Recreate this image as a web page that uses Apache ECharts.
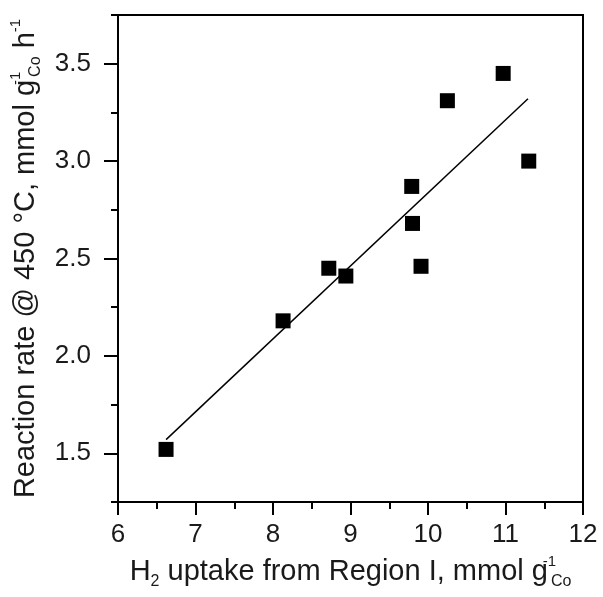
<!DOCTYPE html>
<html>
<head>
<meta charset="utf-8">
<script src="https://cdn.jsdelivr.net/npm/echarts@6/dist/echarts.min.js"></script>
<style>
  html, body { margin: 0; padding: 0; background: #fff; }
  #chart { width: 603px; height: 597px; }
</style>
</head>
<body>
<div id="chart"></div>
<script>
// H2 uptake (mmol g_Co^-1) vs reaction rate at 450 C
const uptake = [6.62, 8.13, 8.72, 8.94, 9.79, 9.80, 9.91, 10.25, 10.97, 11.30]
const rate = [1.52, 2.18, 2.45, 2.41, 2.87, 2.68, 2.46, 3.31, 3.45, 3.00]
// linear fit end points as drawn
const fitX = [6.62, 11.29]
const fitY = [1.57, 3.32]
// y ticks: labelled majors and unlabelled minors
const yMajor = [1.5, 2.0, 2.5, 3.0, 3.5]
const yMinor = [1.25, 1.75, 2.25, 2.75, 3.25, 3.75]

const FONT = '"Liberation Sans", Arial, sans-serif'
const INK = '#1a1a1a'

// rich styles for titles with sub/superscripts
const titleRich = {
  t: { fontFamily: FONT, fontSize: 29, color: INK, lineHeight: 36, verticalAlign: 'middle' },
  sub: { fontFamily: FONT, fontSize: 16, color: INK, lineHeight: 13, verticalAlign: 'bottom' },
  sup: { fontFamily: FONT, fontSize: 15, color: INK, lineHeight: 14, verticalAlign: 'top', width: 3 },
  sup2: { fontFamily: FONT, fontSize: 15, color: INK, lineHeight: 14, verticalAlign: 'top' }
}

const chart = echarts.init(document.getElementById('chart'), null, { renderer: 'canvas' })

const yBase = {
  type: 'value', min: 1.25, max: 3.75, interval: 0.25,
  splitLine: { show: false }
}

chart.setOption({
  animation: false,
  backgroundColor: '#fff',
  grid: {
    left: 118, right: 20, top: 15, bottom: 95,
    outerBoundsMode: 'none',
    show: true, borderColor: '#000', borderWidth: 2
  },
  xAxis: {
    type: 'value', min: 6, max: 12, interval: 1,
    axisLine: { show: true, lineStyle: { color: '#000', width: 2 } },
    axisTick: { show: true, inside: false, length: 13, lineStyle: { color: '#000', width: 2 } },
    minorTick: { show: true, splitNumber: 2, length: 7, lineStyle: { color: '#000', width: 2 } },
    splitLine: { show: false },
    axisLabel: { color: INK, fontFamily: FONT, fontSize: 26, margin: 20 },
    name: '{t|H}{sub|2}{t| uptake from Region I, mmol g}{sup|-1}{sub|Co}',
    nameLocation: 'middle', nameGap: 52,
    nameTextStyle: { rich: titleRich }
  },
  yAxis: [
    Object.assign({}, yBase, {
      axisLine: { show: true, lineStyle: { color: '#000', width: 2 } },
      axisTick: { show: true, inside: false, length: 14, customValues: yMajor, lineStyle: { color: '#000', width: 2 } },
      axisLabel: {
        color: INK, fontFamily: FONT, fontSize: 26, margin: 27,
        customValues: yMajor,
        formatter: v => v.toFixed(1)
      },
      name: '{t|Reaction rate @ 450 \u00b0C, mmol g}{sup|-1}{sub|Co}{t| h}{sup2|-1}',
      nameLocation: 'middle', nameGap: 73, nameRotate: 90,
      nameTextStyle: { rich: titleRich }
    }),
    Object.assign({}, yBase, {
      position: 'left',
      axisLine: { show: false },
      axisTick: { show: true, inside: false, length: 7, customValues: yMinor, lineStyle: { color: '#000', width: 2 } },
      axisLabel: { show: false }
    })
  ],
  series: [
    {
      type: 'line',
      data: fitX.map((x, i) => [x, fitY[i]]),
      showSymbol: false,
      lineStyle: { color: '#000', width: 1.5 },
      z: 2
    },
    {
      type: 'scatter',
      data: uptake.map((x, i) => [x, rate[i]]),
      symbol: 'rect',
      symbolSize: 15,
      itemStyle: { color: '#000', opacity: 1 },
      z: 3
    }
  ]
})
</script>
</body>
</html>
